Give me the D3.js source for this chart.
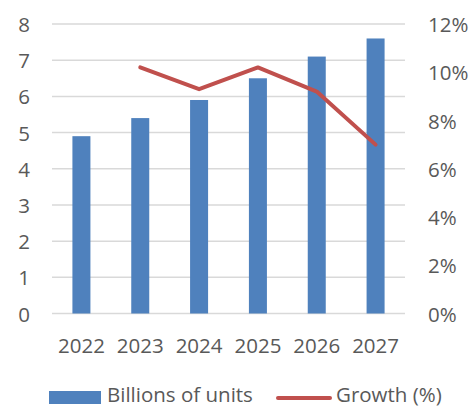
<!DOCTYPE html>
<html>
<head>
<meta charset="utf-8">
<script src="https://cdn.jsdelivr.net/npm/d3@7"></script>
<style>
  html, body { margin: 0; padding: 0; background: #fff; }
  svg { display: block; }
  text { font-family: "Open Sans", sans-serif; fill: #595959; }
</style>
</head>
<body>
<svg id="chart" width="469" height="407"></svg>
<script>
// Unit shipments (billions) and year-over-year growth
const years = ["2022", "2023", "2024", "2025", "2026", "2027"];
const units = [4.9, 5.4, 5.9, 6.5, 7.1, 7.6];
const growthYears = ["2023", "2024", "2025", "2026", "2027"];
const growth = [10.2, 9.3, 10.2, 9.2, 7.0];
const leftTicks = [0, 1, 2, 3, 4, 5, 6, 7, 8];
const rightTicks = [0, 2, 4, 6, 8, 10, 12];

const svg = d3.select("#chart");
const plot = { left: 52, right: 405, top: 24, bottom: 313.5 };
const fontSize = "20.5px";

const x = d3.scaleBand().domain(years).range([plot.left, plot.right]).padding(0);
const yL = d3.scaleLinear().domain([0, 8]).range([plot.bottom, plot.top]);
const yR = d3.scaleLinear().domain([0, 12]).range([plot.bottom, plot.top]);
const barW = x.bandwidth() * 0.306;

// Horizontal gridlines
svg.append("g").selectAll("line").data(leftTicks).join("line")
  .attr("x1", plot.left).attr("x2", plot.right)
  .attr("y1", d => yL(d)).attr("y2", d => yL(d))
  .attr("stroke", "#D9D9D9").attr("stroke-width", 1.5);

// Left axis labels
svg.append("g").selectAll("text").data(leftTicks).join("text")
  .attr("x", 30).attr("y", d => yL(d))
  .attr("text-anchor", "end").attr("dominant-baseline", "central")
  .style("font-size", fontSize)
  .text(d => d);

// Right axis labels
svg.append("g").selectAll("text").data(rightTicks).join("text")
  .attr("x", 428).attr("y", d => yR(d))
  .attr("text-anchor", "start").attr("dominant-baseline", "central")
  .style("font-size", fontSize)
  .text(d => d + "%");

// Category labels
svg.append("g").selectAll("text").data(years).join("text")
  .attr("x", d => x(d) + x.bandwidth() / 2).attr("y", 353)
  .attr("text-anchor", "middle")
  .style("font-size", fontSize)
  .text(d => d);

// Bars
svg.append("g").selectAll("rect").data(years).join("rect")
  .attr("x", d => x(d) + x.bandwidth() / 2 - barW / 2)
  .attr("width", barW)
  .attr("y", (d, i) => yL(units[i]))
  .attr("height", (d, i) => yL(0) - yL(units[i]))
  .attr("fill", "#4F81BD");

// Growth line
const line = d3.line()
  .x((d, i) => x(growthYears[i]) + x.bandwidth() / 2)
  .y(d => yR(d));
svg.append("path").datum(growth)
  .attr("d", line)
  .attr("fill", "none")
  .attr("stroke", "#C0504D")
  .attr("stroke-width", 4)
  .attr("stroke-linejoin", "round")
  .attr("stroke-linecap", "round");

// Legend
const legend = svg.append("g");
legend.append("rect")
  .attr("x", 49).attr("y", 391).attr("width", 52).attr("height", 13)
  .attr("fill", "#4F81BD");
legend.append("text")
  .attr("x", 107).attr("y", 402)
  .style("font-size", fontSize)
  .text("Billions of units");
legend.append("line")
  .attr("x1", 278).attr("x2", 330).attr("y1", 398).attr("y2", 398)
  .attr("stroke", "#C0504D").attr("stroke-width", 4)
  .attr("stroke-linecap", "round");
legend.append("text")
  .attr("x", 336).attr("y", 402)
  .style("font-size", fontSize)
  .text("Growth (%)");
</script>
</body>
</html>
